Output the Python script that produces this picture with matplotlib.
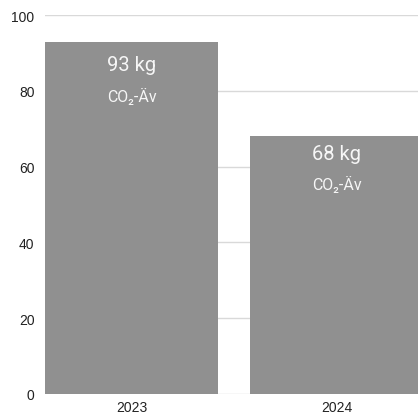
import matplotlib
matplotlib.use('Agg')
import matplotlib.pyplot as plt

years = ['2023', '2024']
values = [93, 68]
labels = ['93 kg', '68 kg']
unit = 'CO\u2082-\u00c4v'

plt.rcParams['font.family'] = ['Liberation Sans', 'DejaVu Sans']

fig = plt.figure(figsize=(4.18, 4.14), dpi=100)
ax = fig.add_axes([45/418, 19/414, 373/418, 379/414])

x = range(len(years))
bars = ax.bar(x, values, width=0.844, color='#909090', zorder=2)

for b, lab in zip(bars, labels):
    cx = b.get_x() + b.get_width() / 2
    ypos = b.get_height() * 0.935
    ax.annotate(lab, (cx, ypos), ha='center', va='center', color='#f6f6f6',
                fontsize=14.5, family=['Roboto', 'DejaVu Sans'])
    ax.annotate(unit, (cx, ypos), xytext=(0, -22), textcoords='offset points',
                ha='center', va='center', color='#f6f6f6', fontsize=11.5,
                family=['Roboto', 'DejaVu Sans'])

ax.set_xlim(-0.422, 1.395)
ax.set_ylim(0, 100)
ax.set_yticks([0, 20, 40, 60, 80, 100])
ax.set_xticks(list(x))
ax.set_xticklabels(years)
ax.yaxis.grid(True, color='#d9d9d9', linewidth=1, zorder=0)
ax.tick_params(length=0, labelsize=10, colors='#222222')
ax.tick_params(axis='y', pad=7.5)
ax.tick_params(axis='x', pad=4)
for s in ax.spines.values():
    s.set_visible(False)

fig.savefig('out.png', dpi=100)
